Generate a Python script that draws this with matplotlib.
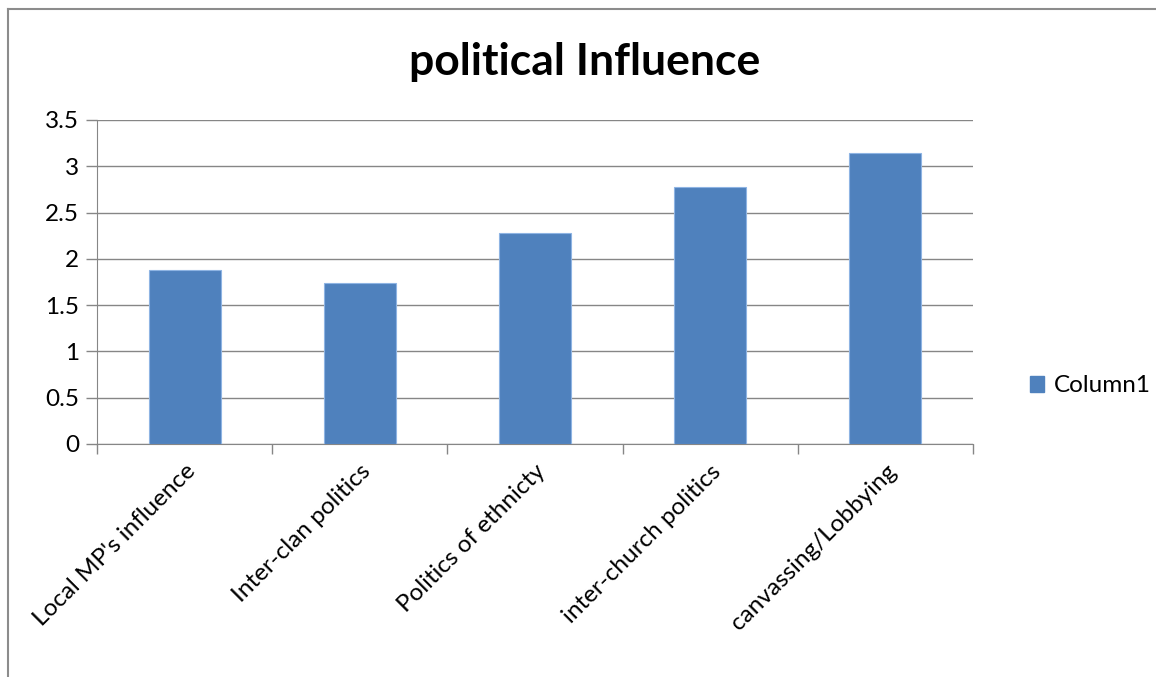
import matplotlib.pyplot as plt
from matplotlib.lines import Line2D
from matplotlib.patches import Patch
import numpy as np

# data
categories = ["Local MP's influence", "Inter-clan politics", "Politics of ethnicty",
              "inter-church politics", "canvassing/Lobbying"]
values = [1.88, 1.74, 2.28, 2.78, 3.14]
yticks = [0, 0.5, 1, 1.5, 2, 2.5, 3, 3.5]
ytick_labels = ["0", "0.5", "1", "1.5", "2", "2.5", "3", "3.5"]

plt.rcParams['font.family'] = ['Lato', 'DejaVu Sans']

fig = plt.figure(figsize=(11.56, 6.77), dpi=100, facecolor="white")
ax = fig.add_axes([97 / 1156, 1 - 444 / 677, 876 / 1156, 324 / 677])

x = np.arange(len(categories))
ax.bar(x, values, width=0.41, color="#4F81BD", edgecolor="#8EB4E3", linewidth=0.8, zorder=3)

ax.set_xlim(-0.5, len(categories) - 0.5)
ax.set_ylim(0, 3.5)
ax.set_yticks(yticks)
ax.set_yticklabels(ytick_labels, fontsize=17.5)
ax.set_xticks(x)
ax.set_xticklabels(categories, fontsize=17.5, rotation=45, ha="right", rotation_mode="anchor")
ax.tick_params(axis="x", length=0, pad=12)
ax.set_xticks(np.arange(-0.5, len(categories)), minor=True)
ax.tick_params(axis="x", which="minor", length=7, color="#868686", width=1)
ax.tick_params(axis="y", length=8, color="#868686", width=1, pad=5)

ax.grid(axis="y", color="#868686", linewidth=1, zorder=0)
for side in ["top", "right"]:
    ax.spines[side].set_visible(False)
ax.spines["left"].set_color("#868686")
ax.spines["bottom"].set_color("#868686")

fig.text(585 / 1156, 1 - 62 / 677, "political Influence", fontsize=32, fontweight="bold",
         ha="center", va="center")

handle = Patch(facecolor="#4F81BD", edgecolor="#4F81BD")
fig.legend([handle], ["Column1"], loc="center left", bbox_to_anchor=(1008 / 1156, 1 - 386 / 677),
           frameon=False, fontsize=17.5, handlelength=0.6, handleheight=0.6, handletextpad=0.4)

# outer chart border (left and top only visible)
fig.add_artist(Line2D([8 / 1156, 8 / 1156], [0, 1 - 9 / 677], color="#8c8c8c", linewidth=1.5,
                      transform=fig.transFigure))
fig.add_artist(Line2D([8 / 1156, 1], [1 - 9 / 677, 1 - 9 / 677], color="#8c8c8c", linewidth=1.5,
                      transform=fig.transFigure))

plt.savefig("out.png", dpi=100, facecolor="white")
